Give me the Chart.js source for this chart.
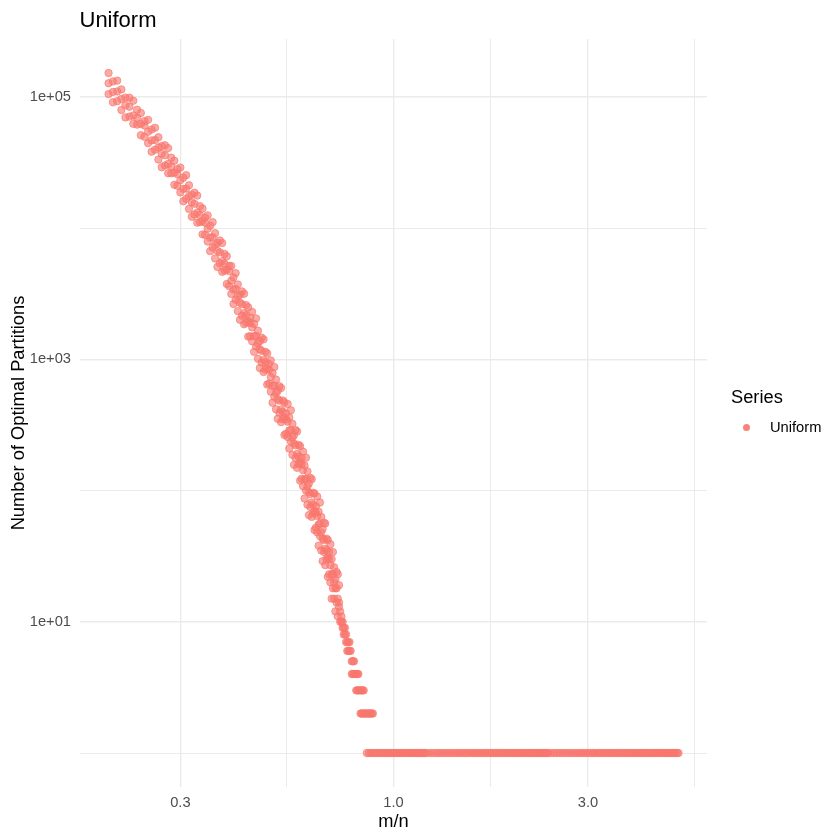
<!DOCTYPE html>
<html>
<head>
<meta charset="utf-8">
<script src="https://cdn.jsdelivr.net/npm/chart.js@4.4.0/dist/chart.umd.min.js"></script>
<style>
  body { margin: 0; background: #fff; }
  #wrap { position: relative; width: 840px; height: 840px; font-family: "Liberation Sans", Arial, sans-serif; }
  #chart { position: absolute; left: 0; top: 0; }
  .lbl { position: absolute; line-height: 1; white-space: nowrap; color: #000; }
  #title { left: 79.5px; top: 9px; font-size: 22px; }
  #legTitle { left: 731px; top: 387.5px; font-size: 18.3px; }
  #legText { left: 770px; top: 419.5px; font-size: 14.7px; }
  #legDot { position: absolute; left: 743.3px; top: 423.5px; width: 7px; height: 7px; border-radius: 50%; background: rgba(248,118,109,0.9); }
</style>
</head>
<body>
<div id="wrap">
  <canvas id="chart" width="840" height="840"></canvas>
  <div class="lbl" id="title">Uniform</div>
  <div class="lbl" id="legTitle">Series</div>
  <span id="legDot"></span>
  <div class="lbl" id="legText">Uniform</div>
</div>
<script>
// m/n values on the steep part of the curve
const curveX = [
  0.200,0.205,0.210,0.215,0.220,0.225,0.230,0.235,0.240,0.245,
  0.250,0.255,0.260,0.265,0.270,0.275,0.280,0.285,0.290,0.295,
  0.300,0.305,0.310,0.315,0.320,0.325,0.330,0.335,0.340,0.345,
  0.350,0.355,0.360,0.365,0.370,0.375,0.380,0.385,0.390,0.395,
  0.400,0.405,0.410,0.415,0.420,0.425,0.430,0.435,0.440,0.445,
  0.450,0.455,0.460,0.465,0.470,0.475,0.480,0.485,0.490,0.495,
  0.500,0.505,0.510,0.515,0.520,0.525,0.530,0.535,0.540,0.545,
  0.550,0.555,0.560,0.565,0.570,0.575,0.580,0.585,0.590,0.595,
  0.600,0.605,0.610,0.615,0.620,0.625,0.630,0.635,0.640,0.645,
  0.650,0.655,0.660,0.665,0.670,0.675,0.680,0.685,0.690,0.695,
  0.700,0.705,0.710,0.715,0.720,0.725,0.730,0.735
];
// three observed counts for each m/n above (upper, lower, middle of the band)
const runA = [
  152000,131000,133000,114000,98700,98500,93400,79900,75400,65300,
  66800,56400,58100,49200,42200,42800,40700,34400,32600,28100,
  28900,24200,25300,21200,18000,18600,17700,14700,14100,12000,
  12500,10400,11100,9150,7710,8040,7700,6360,6110,5150,
  5150,4210,4540,3720,3110,3290,3160,2590,2490,2080,
  2300,1860,2050,1650,1380,1460,1420,1140,1110,920,
  980,787,873,701,576,623,605,485,470,387,
  457,362,409,323,264,289,282,223,218,177,
  198,155,178,140,113,125,122,96,95,76,
  90,69,81,63,51,57,56,43,42,34,
  39,30,34,26,21,24,23,19
];
const runB = [
  105000,90900,92700,79400,69700,70700,62300,61400,51000,49600,
  44400,38200,39500,33300,29100,30000,26200,26100,21400,21000,
  18700,16000,16700,14000,12200,12700,11000,11100,8960,8880,
  7900,6670,7110,5870,5060,5390,4640,4740,3750,3620,
  3150,2640,2850,2330,2000,2150,1850,1900,1490,1500,
  1370,1140,1250,1010,858,945,801,834,642,653,
  567,467,519,416,352,392,332,349,265,271,
  256,209,236,187,157,177,149,159,119,123,
  108,87,100,78,65,75,63,67,50,52,
  48,38,45,35,29,34,27,30,22,23,
  20,15,18,15,12,14,11,13
];
const runC = [
  127000,109000,110000,96400,86500,84100,72100,69300,62200,60500,
  54300,46600,46900,41100,36900,35900,30800,29600,26500,25800,
  23200,19900,20000,17500,15700,15300,13100,12600,11300,11000,
  9890,8470,8530,7480,6710,6530,5600,5380,4830,4700,
  3980,3410,3440,3010,2700,2630,2250,2170,1950,1890,
  1750,1500,1510,1320,1190,1160,991,953,855,832,
  733,628,632,555,498,484,415,399,358,348,
  335,287,289,254,228,221,190,182,164,159,
  143,122,123,108,97,94,81,78,70,68,
  64,55,56,48,43,42,36,35,31,30,
  27,23,23,20,18,18,15,14
];
// small integer counts where the curve breaks into steps
const tailX = [
  0.740,0.740,0.745,0.745,0.750,0.750,0.755,0.755,0.760,0.760,
  0.765,0.765,0.770,0.770,0.775,0.775,0.780,0.780,0.785,0.790,
  0.790,0.795,0.795,0.800,0.800,0.805,0.810,0.810,0.815,0.815,
  0.820,0.820,0.825,0.830,0.830,0.835,0.835,0.840,0.840,0.845,
  0.845,0.850,0.855,0.860,0.865,0.870,0.875,0.880,0.885,0.890
];
const tailY = [
  12,10,11,10,10,9,9,8,9,8,
  8,7,7,6,7,6,6,7,6,5,
  4,5,4,5,4,4,4,3,4,3,
  4,3,3,3,2,3,2,3,2,3,
  2,2,2,2,2,2,2,2,2,2
];
// m/n values with exactly one optimal partition
const flatX = [
  0.86,0.87,0.88,0.89,0.90,0.91,0.92,0.93,0.94,0.95,0.96,0.97,0.98,0.99,1.00,
  1.01,1.02,1.03,1.04,1.05,1.06,1.07,1.08,1.09,1.10,1.11,1.12,1.13,1.14,1.15,
  1.16,1.17,1.18,1.19,1.20,
  1.22,1.24,1.26,1.28,1.30,1.32,1.34,1.36,1.38,1.40,1.42,1.44,1.46,1.48,1.50,
  1.52,1.54,1.56,1.58,1.60,1.62,1.64,1.66,1.68,1.70,1.72,1.74,1.76,1.78,1.80,
  1.82,1.84,1.86,1.88,1.90,1.92,1.94,1.96,1.98,2.00,2.02,2.04,2.06,2.08,2.10,
  2.12,2.14,2.16,2.18,2.20,2.22,2.24,2.26,2.28,2.30,2.32,2.34,2.36,2.38,2.40,
  2.44,2.48,2.52,2.56,2.60,2.64,2.68,2.72,2.76,2.80,2.84,2.88,2.92,2.96,3.00,
  3.04,3.08,3.12,3.16,3.20,3.24,3.28,3.32,3.36,3.40,3.44,3.48,3.52,3.56,3.60,
  3.64,3.68,3.72,3.76,3.80,3.84,3.88,3.92,3.96,4.00,4.04,4.08,4.12,4.16,4.20,
  4.24,4.28,4.32,4.36,4.40,4.44,4.48,4.52,4.56,4.60,4.64,4.68,4.72,4.76,4.80,
  4.84,4.88,4.92,4.96,5.00
];

const xMajor = [0.3, 1, 3];
const xMajorLabels = ["0.3", "1.0", "3.0"];
const xMinor = [0.5477, 1.732, 5.477];
const yMajor = [10, 1000, 100000];
const yMajorLabels = ["1e+01", "1e+03", "1e+05"];
const yMinor = [1, 100, 10000];

const points = [];
curveX.forEach((x, i) => {
  points.push({ x: x, y: runA[i] });
  points.push({ x: x, y: runB[i] });
  points.push({ x: x, y: runC[i] });
});
tailX.forEach((x, i) => points.push({ x: x, y: tailY[i] }));
flatX.forEach((x) => points.push({ x: x, y: 1 }));

const FONT = "'Liberation Sans', Arial, sans-serif";
const gridWidth = (major) => (c) => (c.tick && major.includes(c.tick.value) ? 1.4 : 1);

new Chart(document.getElementById("chart").getContext("2d"), {
  type: "scatter",
  data: {
    datasets: [
      {
        label: "Uniform",
        data: points,
        pointRadius: 3.7,
        pointBorderWidth: 1,
        pointBackgroundColor: "rgba(248,118,109,0.62)",
        pointBorderColor: "rgba(248,118,109,0.65)",
      },
    ],
  },
  options: {
    responsive: false,
    animation: false,
    devicePixelRatio: 1,
    layout: { padding: { top: 39, right: 133, left: 0, bottom: 0 } },
    plugins: { legend: { display: false }, tooltip: { enabled: false } },
    scales: {
      x: {
        type: "logarithmic",
        min: 0.1702,
        max: 5.874,
        afterBuildTicks: (s) => {
          s.ticks = [...xMajor, ...xMinor].sort((a, b) => a - b).map((v) => ({ value: v }));
        },
        afterFit: (s) => { s.height = 53; },
        border: { display: false },
        grid: { drawTicks: false, color: "#EBEBEB", lineWidth: gridWidth(xMajor) },
        ticks: {
          autoSkip: false,
          maxRotation: 0,
          padding: 7,
          color: "#4D4D4D",
          font: { family: FONT, size: 14.7 },
          callback: (v) => {
            const i = xMajor.indexOf(v);
            return i >= 0 ? xMajorLabels[i] : "";
          },
        },
        title: {
          display: true,
          text: "m/n",
          color: "#000",
          font: { family: FONT, size: 18.3 },
          padding: { top: 0, bottom: 7 },
        },
      },
      y: {
        type: "logarithmic",
        min: 0.5507,
        max: 276000,
        afterBuildTicks: (s) => {
          s.ticks = [...yMajor, ...yMinor].sort((a, b) => a - b).map((v) => ({ value: v }));
        },
        afterFit: (s) => { s.width = 80; },
        border: { display: false },
        grid: { drawTicks: false, color: "#EBEBEB", lineWidth: gridWidth(yMajor) },
        ticks: {
          autoSkip: false,
          padding: 9,
          color: "#4D4D4D",
          font: { family: FONT, size: 14.7 },
          callback: (v) => {
            const i = yMajor.indexOf(v);
            return i >= 0 ? yMajorLabels[i] : "";
          },
        },
        title: {
          display: true,
          text: "Number of Optimal Partitions",
          color: "#000",
          font: { family: FONT, size: 18.3 },
          padding: { top: 7.5, bottom: 0 },
        },
      },
    },
  },
});
</script>
</body>
</html>
